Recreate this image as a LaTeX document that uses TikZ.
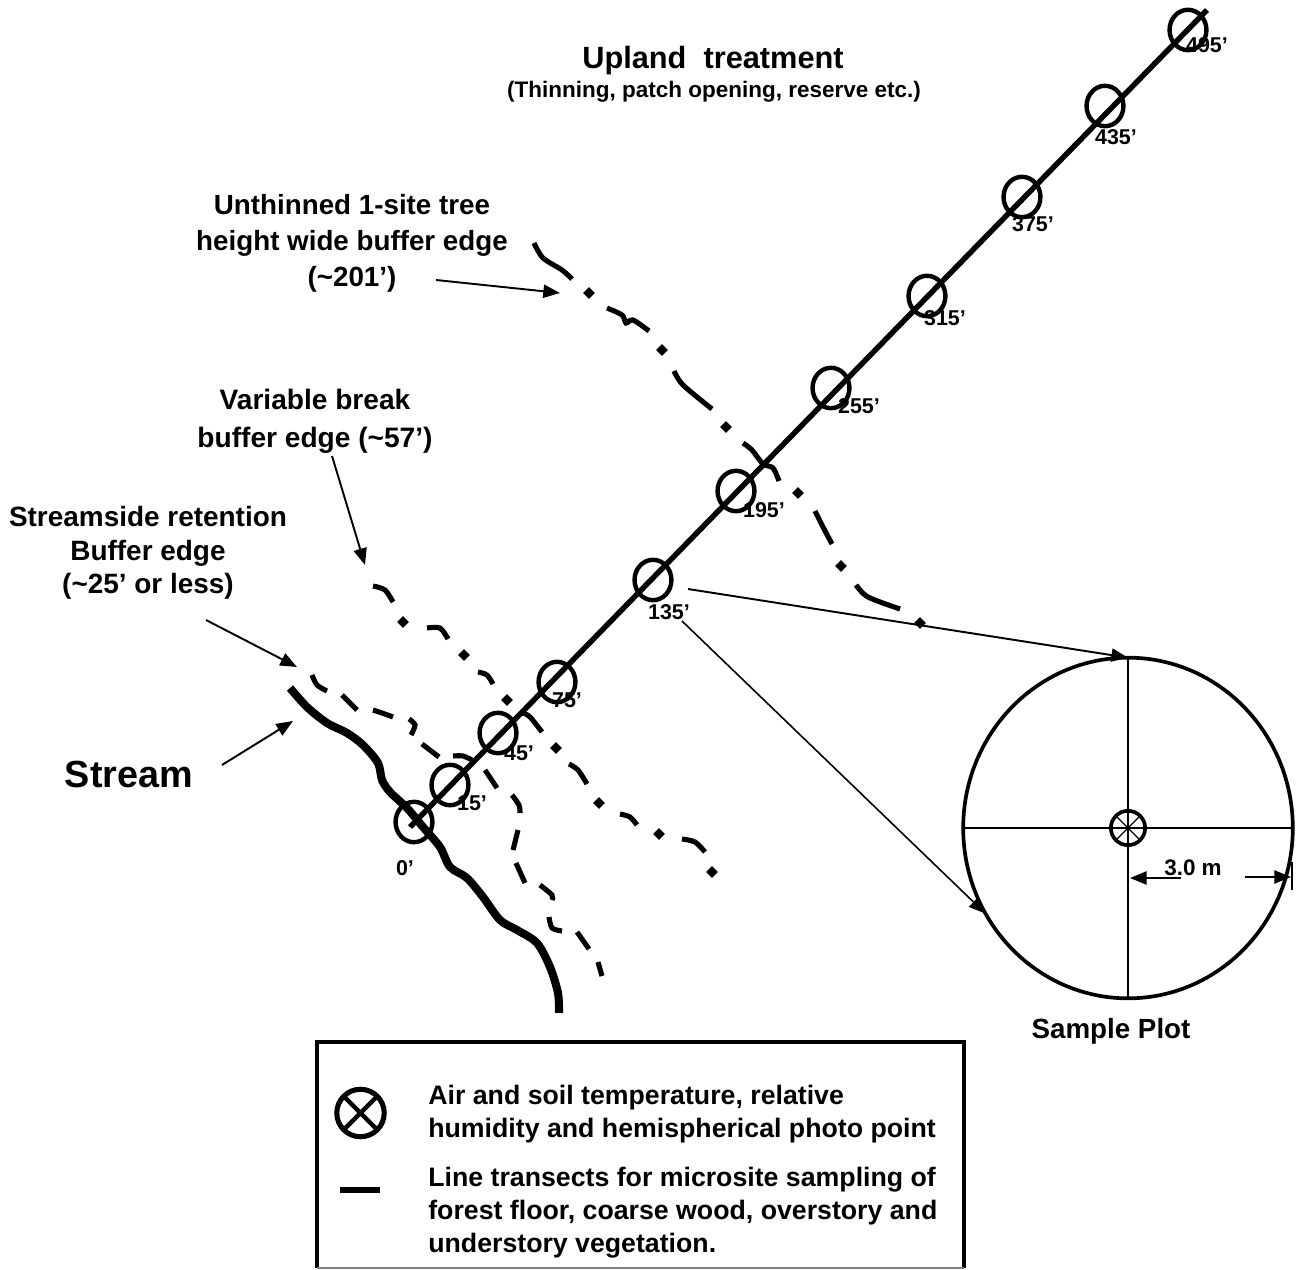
\documentclass[tikz,border=0pt]{standalone}
\usepackage{fontspec}
\setmainfont{Liberation Sans}
\usetikzlibrary{arrows.meta,shapes.geometric}

\tikzset{
  transect/.style={line width=3.1pt},
  stationmark/.style={draw,ellipse,line width=2.5pt,inner sep=0pt,outer sep=0pt,minimum width=21pt,minimum height=23pt},
  stationlabel/.style={font=\bfseries\fontsize{12.2}{14}\selectfont,inner sep=0pt},
  streamline/.style={line width=4.6pt},
  bufferdash/.style={line width=2.9pt},
  bufferdot/.style={fill,diamond,inner sep=0pt,outer sep=0pt,minimum size=6.6pt},
  pointer/.style={line width=1.1pt,-{Triangle[length=9.5pt,width=7.5pt]}},
  grouplabel/.style={font=\bfseries\fontsize{15.8}{19}\selectfont,align=center,inner sep=0pt},
  legendtext/.style={font=\bfseries\fontsize{15.2}{18.7}\selectfont,align=left,anchor=north west,inner sep=0pt},
}

\begin{document}
\begin{tikzpicture}[x=0.02cm,y=-0.02cm]
  \useasboundingbox (0,0) rectangle (1302,1270);

  \node[grouplabel,font=\bfseries\fontsize{17.5}{20}\selectfont] (upland) at (713,61) {Upland\ \ treatment};
  \node[stationlabel,font=\bfseries\fontsize{12.8}{15}\selectfont] (uplandnote) at (714,92) {(Thinning, patch opening, reserve etc.)};
  \node[grouplabel,font=\bfseries\fontsize{15.8}{20.5}\selectfont] (unthinned) at (352,243) {Unthinned 1-site tree\\height wide buffer edge\\(\textasciitilde201’)};
  \node[grouplabel,font=\bfseries\fontsize{16}{21.5}\selectfont] (variable) at (315,421) {Variable break\\buffer edge (\textasciitilde57’)};
  \node[grouplabel,font=\bfseries\fontsize{15.9}{19}\selectfont] (streamside) at (148,553) {Streamside retention\\Buffer edge\\(\textasciitilde25’ or less)};
  \node[grouplabel,font=\bfseries\fontsize{21.5}{25}\selectfont] (stream) at (129,774) {Stream};

  \draw[streamline] plot[smooth] coordinates {(290,688) (307,707) (327,723) (347,733) (363,745) (378,763) (382,780) (390,792) (407,808) (423,827) (440,847) (450,867) (467,878) (483,897) (500,920) (517,930) (537,943) (550,967) (558,993) (559,1013)};

  \draw[bufferdash] plot[smooth] coordinates {(312,675) (317,685) (327,691)};
  \draw[bufferdash] plot[smooth] coordinates {(342,695) (357,710)};
  \draw[bufferdash] plot[smooth] coordinates {(373,710) (382,713) (393,717)};
  \draw[bufferdash] plot[smooth] coordinates {(409,719) (415,725) (411,735)};
  \draw[bufferdash] plot[smooth] coordinates {(422,744) (439,757)};
  \draw[bufferdash] plot[smooth] coordinates {(453,756) (463,756) (472,760)};
  \draw[bufferdash] plot[smooth] coordinates {(485,770) (497,788)};
  \draw[bufferdash] plot[smooth] coordinates {(512,795) (519,805) (520,813)};
  \draw[bufferdash] plot[smooth] coordinates {(518,830) (513,850)};
  \draw[bufferdash] plot[smooth] coordinates {(516,863) (525,883)};
  \draw[bufferdash] plot[smooth] coordinates {(540,885) (552,895) (552,900)};
  \draw[bufferdash] plot[smooth] coordinates {(549,917) (552,928) (562,931)};
  \draw[bufferdash] plot[smooth] coordinates {(577,932) (589,949)};
  \draw[bufferdash] plot[smooth] coordinates {(598,962) (602,976)};

  \draw[bufferdash] plot[smooth] coordinates {(373,586) (385,590) (393,602)};
  \draw[bufferdash] plot[smooth] coordinates {(427,628) (440,628) (448,639)};
  \draw[bufferdash] plot[smooth] coordinates {(478,672) (487,675) (493,684)};
  \draw[bufferdash] plot[smooth] coordinates {(523,713) (530,717) (542,732)};
  \draw[bufferdash] plot[smooth] coordinates {(569,764) (578,770) (587,784)};
  \draw[bufferdash] plot[smooth] coordinates {(620,814) (630,817) (637,825)};
  \draw[bufferdash] plot[smooth] coordinates {(682,839) (695,842) (705,852)};
  \foreach \dotx/\doty [count=\dotnum] in {403/622,464/655,507/700,556/748,599/803,659/834,712/872} {
    \node[bufferdot] (variabledot\dotnum) at (\dotx,\doty) {};
  }

  \draw[bufferdash] plot[smooth] coordinates {(534,243) (543,258) (562,270) (572,279)};
  \draw[bufferdash] plot[smooth] coordinates {(607,308) (622,315) (626,323) (633,320) (649,331)};
  \draw[bufferdash] plot[smooth] coordinates {(674,371) (683,385) (712,409)};
  \draw[bufferdash] plot[smooth] coordinates {(743,443) (752,450) (763,464) (773,468) (779,481)};
  \draw[bufferdash] plot[smooth] coordinates {(815,511) (823,527) (832,544)};
  \draw[bufferdash] plot[smooth] coordinates {(856,585) (868,597) (900,609)};
  \foreach \dotx/\doty [count=\dotnum] in {589/293,662/350,726/427,798/493,841/566,920/623} {
    \node[bufferdot] (unthinneddot\dotnum) at (\dotx,\doty) {};
  }

  \coordinate (transectstart) at (410,827);
  \coordinate (transectend) at (1207,10);
  \draw[transect] (transectstart) -- (transectend);

  \foreach \stationx/\stationy/\labelx/\labely/\feet in {414/822/405/868/0,450/785/472/803/15,498/733/519/753/45,557/682/567/700/75,653/580/669/612/135,736/491/764/510/195,831/388/859/406/255,927/296/945/318/315,1022/197/1033/224/375,1105/106/1116/137/435,1188/30/1207/45/495} {
    \node[stationmark] (station\feet) at (\stationx,\stationy) {};
    \node[stationlabel] (stationlabel\feet) at (\labelx,\labely) {\feet’};
  }

  \coordinate (unthinnedtail) at (436,280);
  \coordinate (unthinnedtip) at (560,293);
  \draw[pointer] (unthinnedtail) -- (unthinnedtip);
  \coordinate (variabletail) at (332,456);
  \coordinate (variabletip) at (365,565);
  \draw[pointer] (variabletail) -- (variabletip);
  \coordinate (streamsidetail) at (206,620);
  \coordinate (streamsidetip) at (297,667);
  \draw[pointer] (streamsidetail) -- (streamsidetip);
  \coordinate (streamtail) at (222,765);
  \coordinate (streamtip) at (293,721);
  \draw[pointer] (streamtail) -- (streamtip);

  \node[draw,ellipse,line width=2.1pt,inner sep=0pt,outer sep=0pt,minimum width=187.6pt,minimum height=193.9pt] (plot) at (1128,828) {};
  \draw[line width=1.1pt] (plot.north) -- (plot.south);
  \draw[line width=1.1pt] (plot.west) -- (plot.east);
  \node[draw,circle,fill=white,line width=2.1pt,inner sep=0pt,outer sep=0pt,minimum size=19.5pt] (sensor) at (plot.center) {};
  \draw[line width=0.7pt] (sensor.45) -- (sensor.225);
  \draw[line width=0.7pt] (sensor.135) -- (sensor.315);
  \draw[line width=0.7pt] (sensor.north) -- (sensor.south);
  \draw[line width=0.7pt] (sensor.west) -- (sensor.east);

  \coordinate (plotuppertail) at (688,589);
  \draw[pointer] (plotuppertail) -- (plot.north);
  \coordinate (plotlowertail) at (682,621);
  \draw[pointer,line width=0.9pt] (plotlowertail) -- (plot.211);

  \node[stationlabel,font=\bfseries\fontsize{12.8}{15}\selectfont] (radius) at (1193,868) {3.0 m};
  \coordinate (radiuslefttail) at (1181,878);
  \coordinate (radiusleft) at (1130,878);
  \coordinate (radiusrighttail) at (1245,877);
  \coordinate (radiusright) at (1291,877);
  \draw[pointer] (radiuslefttail) -- (radiusleft);
  \draw[pointer] (radiusrighttail) -- (radiusright);
  \coordinate (ticktop) at (1292,862);
  \coordinate (tickbottom) at (1292,890);
  \draw[line width=0.8pt] (ticktop) -- (tickbottom);
  \node[grouplabel] (samplelabel) at (1111,1031) {Sample Plot};

  \coordinate (legendlowerleft) at (317,1268);
  \coordinate (legendupperleft) at (317,1042);
  \coordinate (legendupperright) at (964,1042);
  \coordinate (legendlowerright) at (964,1268);
  \draw[line width=2.2pt] (legendlowerleft) -- (legendupperleft) -- (legendupperright) -- (legendlowerright);
  \draw[gray,line width=0.8pt] (legendlowerleft) -- (legendlowerright);

  \node[draw,circle,line width=2.9pt,inner sep=0pt,outer sep=0pt,minimum size=27pt] (legendsensor) at (360.5,1113) {};
  \draw[line width=2.6pt] (legendsensor.45) -- (legendsensor.225);
  \draw[line width=2.6pt] (legendsensor.135) -- (legendsensor.315);
  \node[legendtext] (legendsensortext) at (428,1085) {Air and soil temperature, relative\\humidity and hemispherical photo point};

  \coordinate (legendlinestart) at (340,1190);
  \coordinate (legendlineend) at (380,1190);
  \draw[line width=3.2pt] (legendlinestart) -- (legendlineend);
  \node[legendtext] (legendlinetext) at (428,1167) {Line transects for microsite sampling of\\forest floor, coarse wood, overstory and\\understory vegetation.};
\end{tikzpicture}
\end{document}
